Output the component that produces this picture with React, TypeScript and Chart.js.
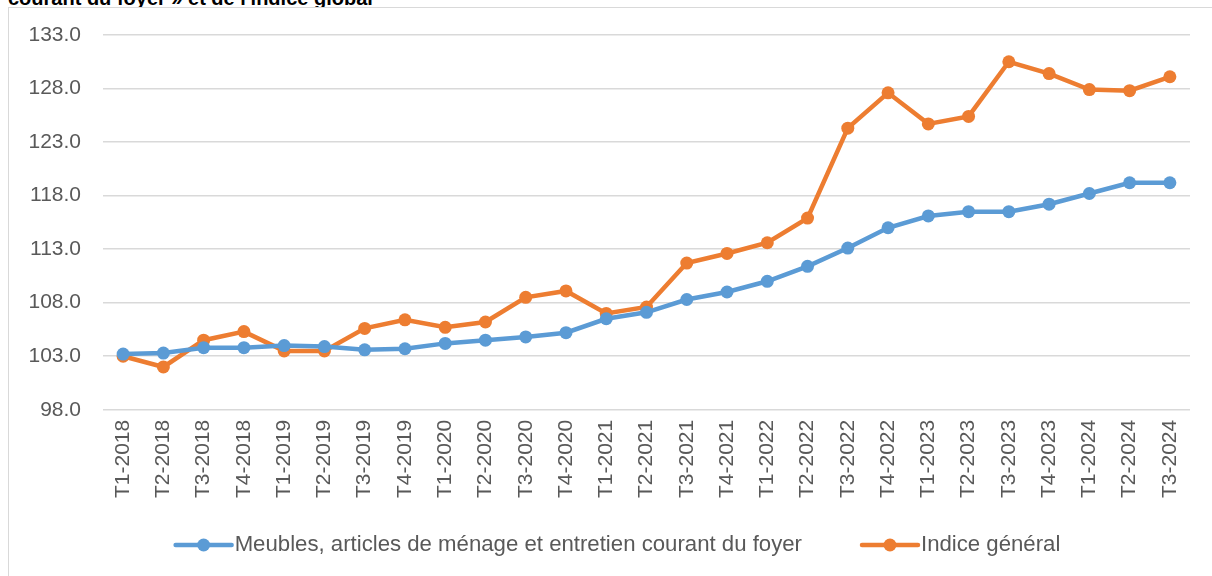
import React, { useEffect, useRef } from "react";
import { Chart, registerables } from "chart.js";

Chart.register(...registerables);

const categories = [
  "T1-2018", "T2-2018", "T3-2018", "T4-2018",
  "T1-2019", "T2-2019", "T3-2019", "T4-2019",
  "T1-2020", "T2-2020", "T3-2020", "T4-2020",
  "T1-2021", "T2-2021", "T3-2021", "T4-2021",
  "T1-2022", "T2-2022", "T3-2022", "T4-2022",
  "T1-2023", "T2-2023", "T3-2023", "T4-2023",
  "T1-2024", "T2-2024", "T3-2024",
];

const meublesValues = [
  103.2, 103.3, 103.8, 103.8,
  104.0, 103.9, 103.6, 103.7,
  104.2, 104.5, 104.8, 105.2,
  106.5, 107.1, 108.3, 109.0,
  110.0, 111.4, 113.1, 115.0,
  116.1, 116.5, 116.5, 117.2,
  118.2, 119.2, 119.2,
];

const indiceGeneralValues = [
  103.0, 102.0, 104.5, 105.3,
  103.5, 103.5, 105.6, 106.4,
  105.7, 106.2, 108.5, 109.1,
  107.0, 107.6, 111.7, 112.6,
  113.6, 115.9, 124.3, 127.6,
  124.7, 125.4, 130.5, 129.4,
  127.9, 127.8, 129.1,
];

const seriesLabels = [
  "Meubles, articles de ménage et entretien courant du foyer",
  "Indice général",
];

const titleText = "courant du foyer » et de l'indice global";

const yMin = 98;
const yMax = 133;
const yStep = 5;

const BLUE = "#5b9bd5";
const ORANGE = "#ed7d31";
const TEXT = "#595959";
const FONT = '"Liberation Sans", Arial, sans-serif';

const legendPlugin = {
  id: "lineLegend",
  afterDraw(chart: any) {
    const ctx = chart.ctx as CanvasRenderingContext2D;
    ctx.save();
    ctx.font = `22.2px ${FONT}`;
    ctx.textBaseline = "middle";
    const marker = 60;
    const gapText = 1;
    const gapItem = 58;
    const items = chart.data.datasets.map((ds: any) => ({
      label: ds.label as string,
      color: ds.borderColor as string,
    }));
    const widths = items.map((it: any) => marker + gapText + ctx.measureText(it.label).width);
    const total = widths.reduce((a: number, b: number) => a + b, 0) + gapItem * (items.length - 1);
    let x = (chart.width - total) / 2;
    const y = 537;
    items.forEach((it: any, i: number) => {
      ctx.strokeStyle = it.color;
      ctx.lineWidth = 4.5;
      ctx.lineCap = "round";
      ctx.beginPath();
      ctx.moveTo(x + 2, y);
      ctx.lineTo(x + marker - 2, y);
      ctx.stroke();
      ctx.fillStyle = it.color;
      ctx.beginPath();
      ctx.arc(x + marker / 2, y, 6.5, 0, Math.PI * 2);
      ctx.fill();
      ctx.fillStyle = TEXT;
      ctx.textAlign = "left";
      ctx.fillText(it.label, x + marker + gapText, y);
      x += widths[i] + gapItem;
    });
    ctx.restore();
  },
};

export default function App() {
  const canvasRef = useRef<HTMLCanvasElement | null>(null);

  useEffect(() => {
    if (!canvasRef.current) return;
    const chart = new Chart(canvasRef.current, {
      type: "line",
      data: {
        labels: categories,
        datasets: [
          {
            label: seriesLabels[0],
            data: meublesValues,
            borderColor: BLUE,
            backgroundColor: BLUE,
            pointBackgroundColor: BLUE,
            pointBorderColor: BLUE,
            borderWidth: 4.5,
            pointRadius: 6.5,
            pointBorderWidth: 0,
            tension: 0,
          },
          {
            label: seriesLabels[1],
            data: indiceGeneralValues,
            borderColor: ORANGE,
            backgroundColor: ORANGE,
            pointBackgroundColor: ORANGE,
            pointBorderColor: ORANGE,
            borderWidth: 4.5,
            pointRadius: 6.5,
            pointBorderWidth: 0,
            tension: 0,
          },
        ],
      },
      options: {
        animation: false,
        responsive: false,
        maintainAspectRatio: false,
        layout: { padding: { left: 20, right: 35, top: 27, bottom: 88 } },
        plugins: {
          legend: { display: false },
          tooltip: { enabled: false },
        },
        scales: {
          x: {
            offset: true,
            grid: { display: false },
            border: { display: false },
            ticks: {
              color: TEXT,
              font: { family: FONT, size: 21 },
              maxRotation: 90,
              minRotation: 90,
              autoSkip: false,
              padding: 2,
            },
          },
          y: {
            min: yMin,
            max: yMax,
            border: { display: false },
            grid: { color: "#d9d9d9", lineWidth: 1.5, drawTicks: false },
            afterFit: (scale: any) => {
              scale.width = 74;
              scale.paddingTop = 0;
              scale.paddingBottom = 0;
            },
            ticks: {
              stepSize: yStep,
              color: TEXT,
              font: { family: FONT, size: 21 },
              padding: 22,
              callback: (v: any) => Number(v).toFixed(1),
            },
          },
        },
      },
      plugins: [legendPlugin],
    });
    return () => chart.destroy();
  }, []);

  return (
    <div
      style={{
        position: "fixed",
        left: 0,
        top: 0,
        width: 1212,
        height: 576,
        overflow: "hidden",
        background: "#fff",
      }}
    >
      <div
        style={{
          position: "absolute",
          left: 8,
          top: -12,
          font: `bold 20px ${FONT}`,
          lineHeight: "20px",
          whiteSpace: "nowrap",
          color: "#000",
        }}
      >
        {titleText}
      </div>
      <div
        style={{
          position: "absolute",
          left: 8,
          top: 7,
          width: 1216,
          height: 580,
          border: "1px solid #d9d9d9",
          background: "#fff",
        }}
      >
        <canvas ref={canvasRef} width={1216} height={580} style={{ display: "block" }} />
      </div>
    </div>
  );
}
